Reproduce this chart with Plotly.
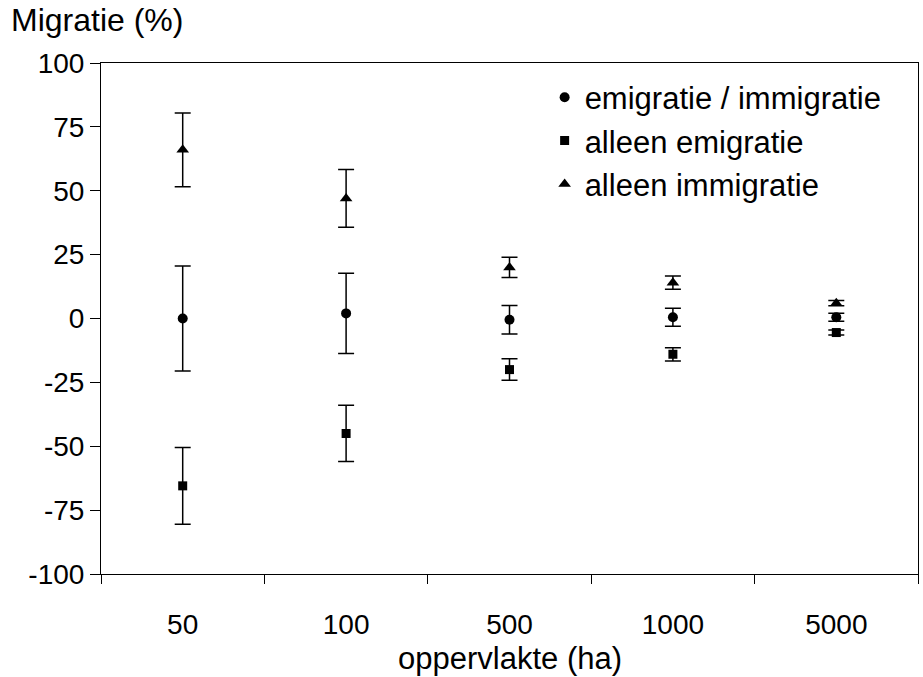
import plotly.graph_objects as go

categories = ["50", "100", "500", "1000", "5000"]

both_vals = [0, 2, -0.5, 0.5, 0.5]
both_err = [20.5, 15.7, 5.6, 3.5, 1.6]

emi_vals = [-65.5, -45, -20, -14, -5.5]
emi_err = [15, 11, 4.2, 2.6, 1.0]

imm_vals = [66, 47, 20, 14, 6]
imm_err = [14.4, 11.3, 4.0, 2.6, 1.0]

y_ticks = [-100, -75, -50, -25, 0, 25, 50, 75, 100]
y_tick_text = ["-100", "-75", "-50", "-25", "0", "25", "50", "75", "100"]

FONT = "Liberation Sans, Arial, sans-serif"
FS_TICK = 28
FS_TEXT = 32

def series(name, vals, errs, symbol, size):
    return go.Scatter(
        x=categories, y=vals, name=name, mode="markers",
        marker=dict(symbol=symbol, size=size, color="black"),
        error_y=dict(type="data", array=errs, visible=True,
                     color="black", thickness=1.5, width=8),
    )

fig = go.Figure()
fig.add_trace(series("emigratie / immigratie", both_vals, both_err, "circle", 10))
fig.add_trace(series("alleen emigratie", emi_vals, emi_err, "square", 9))
fig.add_trace(series("alleen immigratie", imm_vals, imm_err, "triangle-up", 11))

fig.update_layout(
    width=923, height=677,
    margin=dict(l=101, r=5, t=63, b=103),
    paper_bgcolor="white", plot_bgcolor="white",
    font=dict(family=FONT, size=FS_TICK, color="black"),
    showlegend=True,
    legend=dict(x=0.543, y=0.985, xanchor="left", yanchor="top",
                bgcolor="rgba(0,0,0,0)", font=dict(size=31),
                tracegroupgap=0, itemwidth=30),
    xaxis=dict(
        type="category", range=[-0.5, 4.5],
        showline=True, linecolor="black", linewidth=1, mirror=True,
        ticks="outside", ticklen=9, tickcolor="black", tickson="boundaries",
        ticklabelstandoff=25,
        showgrid=False, zeroline=False,
        tickfont=dict(size=FS_TICK),
    ),
    yaxis=dict(
        range=[-100, 100], tickvals=y_ticks, ticktext=y_tick_text,
        showline=True, linecolor="black", linewidth=1, mirror=True,
        ticks="outside", ticklen=10, tickcolor="black",
        showgrid=False, zeroline=False, tickfont=dict(size=FS_TICK),
    ),
    annotations=[
        dict(text="Migratie (%)", xref="paper", yref="paper",
             x=-0.112, y=1.085, xanchor="left", yanchor="middle",
             showarrow=False, font=dict(size=FS_TEXT)),
        dict(text="oppervlakte (ha)", xref="paper", yref="paper",
             x=0.5, y=-0.166, xanchor="center", yanchor="middle",
             showarrow=False, font=dict(size=31)),
    ],
)

fig.write_html("out.html")
